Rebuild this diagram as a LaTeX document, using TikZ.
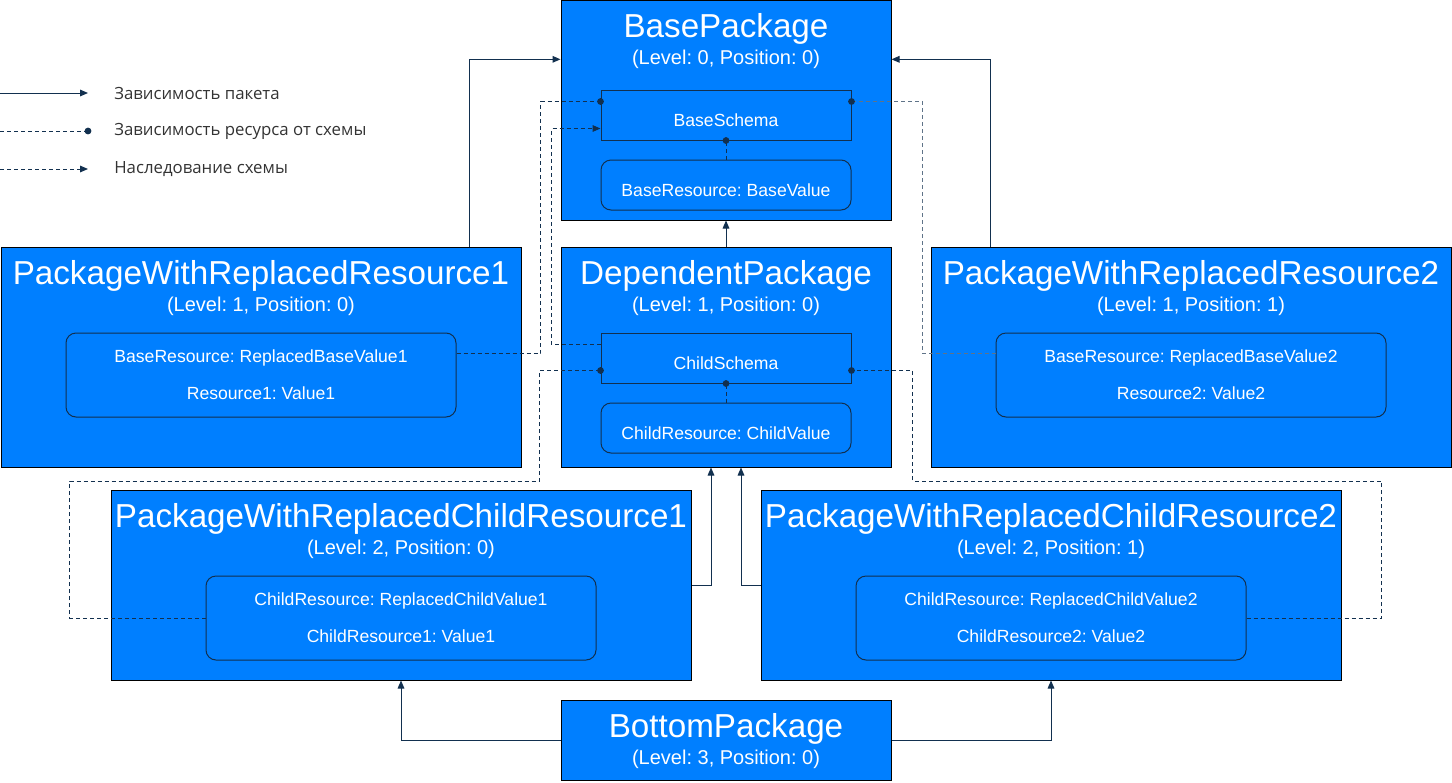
\documentclass[tikz,border=0pt]{standalone}
\usepackage{fontspec}
\setmainfont{Liberation Sans}
\newfontfamily\leyendafont{Open Sans}
\frenchspacing
\usetikzlibrary{arrows.meta,calc}
\definecolor{azulpaquete}{HTML}{007FFF}
\definecolor{azuloscuro}{HTML}{12304F}
\definecolor{grisraya}{HTML}{5F7388}
\definecolor{grisleyenda}{HTML}{333333}
\tikzset{
  paquete/.style={draw=black,fill=azulpaquete,line width=.75pt,inner sep=0pt},
  titulo/.style={anchor=base,text=white,inner sep=0pt,font=\fontsize{24.9}{29}\selectfont},
  nivel/.style={anchor=base,text=white,inner sep=0pt,font=\fontsize{15}{18}\selectfont},
  esquema/.style={draw=azuloscuro,fill=azulpaquete,line width=.75pt,minimum width=187.5pt,
    minimum height=37.5pt,inner sep=0pt,text height=17pt,text depth=0pt,text=white,
    font=\fontsize{13.2}{15.6}\selectfont},
  recurso/.style={esquema,rounded corners=7.5pt},
  recursos/.style={draw=azuloscuro,fill=azulpaquete,line width=.75pt,rounded corners=7.5pt,
    minimum width=292.5pt,minimum height=63pt,inner sep=0pt,align=center,text=white,
    font=\fontsize{13.2}{27.75}\selectfont},
  dependencia/.style={draw=azuloscuro,line width=.75pt,-{Triangle[length=6pt,width=5pt]}},
  usa/.style={draw=azuloscuro,line width=.75pt,dash pattern=on 3pt off 2.25pt,
    -{Circle[length=5pt,color=azuloscuro]},shorten >=-2.5pt},
  hereda/.style={draw=azuloscuro,line width=.75pt,dash pattern=on 3pt off 2.25pt,
    -{Triangle[length=6pt,width=5pt]}},
  leyenda/.style={anchor=west,text=grisleyenda,inner sep=0pt,font=\leyendafont\fontsize{12.6}{15}\selectfont}
}
\begin{document}
\begin{tikzpicture}[x=.75pt,y=-.75pt]
\useasboundingbox (0,0) rectangle (1452,782);
%
% paquetes
\node[paquete,minimum width=247.5pt,minimum height=165pt] (base) at (726,110) {};
\node[titulo] (base-titulo) at (726,37.5) {BasePackage};
\node[nivel] (base-nivel) at (726,64.5) {(Level: 0, Position: 0)};
\node[esquema] (bschema) at (726,115) {BaseSchema};
\node[recurso] (bres) at (726,185) {BaseResource: BaseValue};

\node[paquete,minimum width=247.5pt,minimum height=165pt] (dep) at (726,357) {};
\node[titulo] (dep-titulo) at (726,284.5) {DependentPackage};
\node[nivel] (dep-nivel) at (726,311.5) {(Level: 1, Position: 0)};
\node[esquema] (cschema) at (726,358) {ChildSchema};
\node[recurso] (cres) at (726,428) {ChildResource: ChildValue};

\node[paquete,minimum width=390pt,minimum height=165pt] (pr1) at (261,357) {};
\node[titulo] (pr1-titulo) at (261,284.5) {PackageWithReplacedResource1};
\node[nivel] (pr1-nivel) at (261,311.5) {(Level: 1, Position: 0)};
\node[recursos] (pr1-res) at (261,375) {BaseResource: ReplacedBaseValue1\\Resource1: Value1};

\node[paquete,minimum width=390pt,minimum height=165pt] (pr2) at (1191,357) {};
\node[titulo] (pr2-titulo) at (1191,284.5) {PackageWithReplacedResource2};
\node[nivel] (pr2-nivel) at (1191,311.5) {(Level: 1, Position: 1)};
\node[recursos] (pr2-res) at (1191,375) {BaseResource: ReplacedBaseValue2\\Resource2: Value2};

\node[paquete,minimum width=435pt,minimum height=142.5pt] (pc1) at (401,585) {};
\node[titulo] (pc1-titulo) at (401,527.5) {PackageWithReplacedChildResource1};
\node[nivel] (pc1-nivel) at (401,554.5) {(Level: 2, Position: 0)};
\node[recursos] (pc1-res) at (401,618) {ChildResource: ReplacedChildValue1\\ChildResource1: Value1};

\node[paquete,minimum width=435pt,minimum height=142.5pt] (pc2) at (1051,585) {};
\node[titulo] (pc2-titulo) at (1051,527.5) {PackageWithReplacedChildResource2};
\node[nivel] (pc2-nivel) at (1051,554.5) {(Level: 2, Position: 1)};
\node[recursos] (pc2-res) at (1051,618) {ChildResource: ReplacedChildValue2\\ChildResource2: Value2};

\node[paquete,minimum width=247.5pt,minimum height=60pt] (bottom) at (726,740) {};
\node[titulo] (bottom-titulo) at (726,737.5) {BottomPackage};
\node[nivel] (bottom-nivel) at (726,764.5) {(Level: 3, Position: 0)};
%
% dependencias de paquetes
\draw[dependencia] ($(pr1.north east)+(-52,0)$) |- (base.west |- base-nivel);
\draw[dependencia] ($(pr2.north west)+(60,0)$) |- (base.east |- base-nivel);
\draw[dependencia] (dep.north) -- (base.south);
\draw[dependencia] (pc1.east) -| ($(dep.south)+(-15,0)$);
\draw[dependencia] (pc2.west) -| ($(dep.south)+(15,0)$);
\draw[dependencia] (bottom.west) -| (pc1.south);
\draw[dependencia] (bottom.east) -| (pc2.south);
%
% recursos y esquemas
\draw[usa] (bres.north) -- (bschema.south);
\draw[usa] (cres.north) -- (cschema.south);
\draw[usa] ($(pr1-res.north east)+(0,21)$) -- ++(84,0) |- ($(bschema.north west)+(0,12)$);
\draw[usa,draw=grisraya] ($(pr2-res.north west)+(0,21)$) -- ++(-73,0) |- ($(bschema.north east)+(0,12)$);
\draw[usa] (pc1-res.west) -- ++(-136,0) -- ++(0,-137) -- ++(470,0) |- ($(cschema.south west)+(0,-13)$);
\draw[usa] (pc2-res.east) -- ++(135,0) -- ++(0,-137) -- ++(-469,0) |- ($(cschema.south east)+(0,-13)$);
\draw[hereda] ($(cschema.north west)+(0,12)$) -- ++(-49,0) |- ($(bschema.south west)+(0,-12)$);
%
% leyenda
\foreach \y/\estilo/\texto in {93/dependencia/Зависимость пакета,131/usa/Зависимость ресурса от схемы,169/hereda/Наследование схемы}{
  \coordinate (ley-a-\y) at (0,\y);
  \coordinate (ley-b-\y) at (88,\y);
  \node[leyenda] (ley-\y) at (114,\y) {\texto};
  \draw[\estilo] (ley-a-\y) -- (ley-b-\y);
}
\end{tikzpicture}
\end{document}
